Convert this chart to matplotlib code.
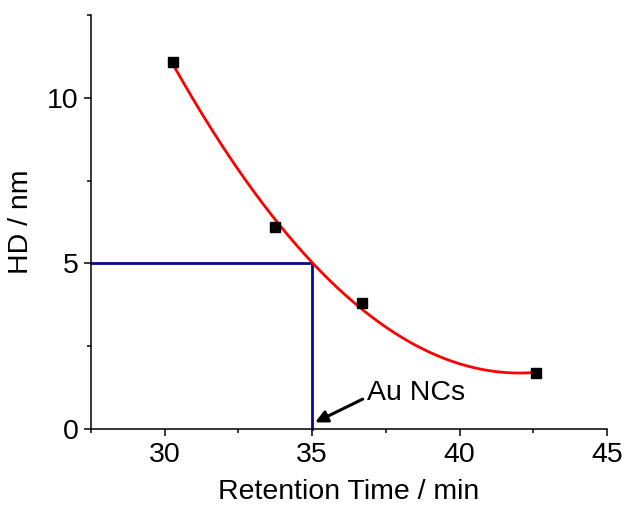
import numpy as np
import matplotlib
matplotlib.use("Agg")
import matplotlib.pyplot as plt
from matplotlib.ticker import MultipleLocator

plt.rcParams['font.family'] = ['Liberation Sans', 'DejaVu Sans']

retention_time = [30.28, 33.75, 36.68, 42.58]
hd_nm = [11.08, 6.10, 3.80, 1.68]
ref_x = [27.5, 35.0, 35.0]
ref_y = [5.0, 5.0, 0.0]
x_ticks = [30, 35, 40, 45]
y_ticks = [0, 5, 10]

fig = plt.figure(figsize=(6.28, 5.19), dpi=100)
ax = fig.add_axes([0.145, 0.1734, 0.8216, 0.7976])

coef = np.polyfit(retention_time, hd_nm, 2)
xf = np.linspace(min(retention_time), max(retention_time), 300)
ax.plot(ref_x, ref_y, color='#0a0a8c', lw=2.0, zorder=2, clip_on=False)
ax.plot(xf, np.polyval(coef, xf), color='#ff0000', lw=2.0, zorder=3)
ax.plot(retention_time, hd_nm, 's', color='black', ms=6.5, zorder=4)

ax.set_xlim(27.5, 45)
ax.set_ylim(0, 12.5)
ax.set_xticks(x_ticks)
ax.set_yticks(y_ticks)
ax.xaxis.set_minor_locator(MultipleLocator(2.5))
ax.yaxis.set_minor_locator(MultipleLocator(2.5))
for s in ['top', 'right']:
    ax.spines[s].set_visible(False)
for s in ['left', 'bottom']:
    ax.spines[s].set_linewidth(1.1)
ax.tick_params(which='major', direction='out', length=5, width=1.1, labelsize=20.5, pad=4)
ax.tick_params(which='minor', direction='out', length=3, width=1.1)
ax.set_xlabel('Retention Time / min', fontsize=20.5, labelpad=8)
ax.set_ylabel('HD / nm', fontsize=20.5, labelpad=9)

ax.annotate('Au NCs', xy=(35.1, 0.2), xytext=(36.85, 1.08),
            fontsize=20.5, va='center', ha='left',
            arrowprops=dict(arrowstyle='-|>', color='black', lw=2.2,
                            mutation_scale=18, shrinkA=1, shrinkB=0,
                            relpos=(0.0, 0.35)))

fig.savefig('out.png', dpi=100)
